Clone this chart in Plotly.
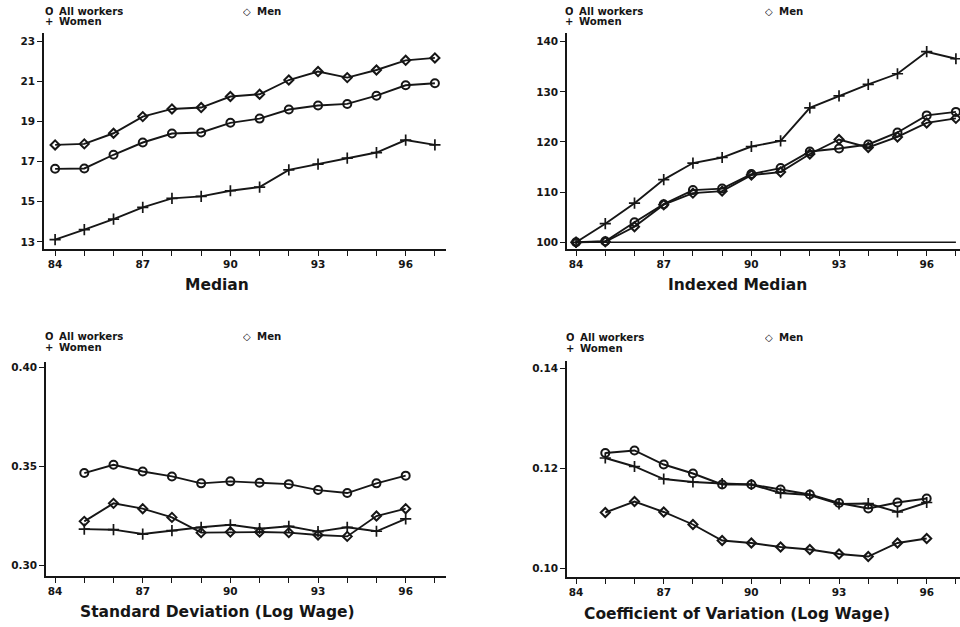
import plotly.graph_objects as go

# ---------------- data ----------------
years = list(range(84, 98))
years_sd = list(range(85, 97))

median_all = [16.64, 16.66, 17.34, 17.95, 18.40, 18.45, 18.93, 19.14, 19.59, 19.79, 19.87, 20.28, 20.80, 20.90]
median_men = [17.83, 17.88, 18.41, 19.24, 19.62, 19.69, 20.24, 20.35, 21.06, 21.48, 21.18, 21.56, 22.04, 22.16]
median_women = [13.12, 13.61, 14.14, 14.72, 15.17, 15.27, 15.55, 15.73, 16.59, 16.87, 17.17, 17.45, 18.07, 17.83]

idx_all = [100, 100.2, 104.0, 107.6, 110.4, 110.7, 113.6, 114.8, 118.1, 118.7, 119.5, 121.9, 125.3, 126.0]
idx_men = [100, 100.1, 103.1, 107.5, 109.8, 110.2, 113.4, 114.0, 117.6, 120.5, 118.9, 121.0, 123.8, 124.7]
idx_women = [100, 103.7, 107.8, 112.5, 115.8, 116.9, 119.1, 120.2, 126.8, 129.2, 131.5, 133.6, 138.0, 136.6]
idx_base_x = [84, 97]
idx_base_y = [100, 100]

sd_all = [0.3468, 0.3510, 0.3476, 0.3451, 0.3416, 0.3426, 0.3419, 0.3412, 0.3382, 0.3367, 0.3416, 0.3455]
sd_men = [0.3224, 0.3315, 0.3288, 0.3244, 0.3167, 0.3170, 0.3170, 0.3167, 0.3155, 0.3148, 0.3251, 0.3288]
sd_women = [0.3185, 0.3182, 0.3160, 0.3177, 0.3194, 0.3207, 0.3187, 0.3199, 0.3172, 0.3194, 0.3174, 0.3237]

cv_all = [0.1230, 0.1235, 0.1207, 0.1189, 0.1167, 0.1167, 0.1157, 0.1147, 0.1130, 0.1119, 0.1131, 0.1139]
cv_men = [0.1111, 0.1133, 0.1112, 0.1087, 0.1055, 0.1050, 0.1042, 0.1037, 0.1028, 0.1023, 0.1050, 0.1059]
cv_women = [0.1220, 0.1203, 0.1178, 0.1172, 0.1169, 0.1167, 0.1150, 0.1146, 0.1128, 0.1129, 0.1112, 0.1131]

x_tickvals = [84, 87, 90, 93, 96]
x_ticktext = ["84", "87", "90", "93", "96"]
series_names = ["All workers", "Men", "Women"]
panel_titles = ["Median", "Indexed Median", "Standard Deviation (Log Wage)",
                "Coefficient of Variation (Log Wage)"]

# ---------------- style ----------------
INK = "#161616"
FONT = "DejaVu Sans, Verdana, sans-serif"
W, H = 960, 627

sym = {"All workers": ("circle-open", 8), "Men": ("diamond-open", 7), "Women": ("cross-thin-open", 8)}

fig = go.Figure()


def add_series(xs, ys, name, ax):
    s, size = sym[name]
    fig.add_trace(go.Scatter(
        x=xs, y=ys, mode="lines+markers", name=name, showlegend=False,
        xaxis="x" + ax, yaxis="y" + ax,
        line=dict(color=INK, width=1.9),
        marker=dict(symbol=s, size=size, color=INK,
                    line=dict(color=INK, width=1.7 if name == "Women" else 2)),
    ))


panels = [
    ("", years, [median_all, median_men, median_women]),
    ("2", years, [idx_all, idx_men, idx_women]),
    ("3", years_sd, [sd_all, sd_men, sd_women]),
    ("4", years_sd, [cv_all, cv_men, cv_women]),
]
for ax, xs, ser in panels:
    for name, ys in zip(series_names, ser):
        add_series(xs, ys, name, ax)

fig.add_trace(go.Scatter(x=idx_base_x, y=idx_base_y, mode="lines", showlegend=False,
                         xaxis="x2", yaxis="y2", line=dict(color=INK, width=1.6)))


def xd(a, b):
    return [a / W, b / W]


def yd(top, bottom):
    return [1 - bottom / H, 1 - top / H]


axis_common = dict(showline=True, linecolor=INK, linewidth=1.7, showgrid=False, zeroline=False,
                   ticks="outside", ticklen=5, tickwidth=1.4, tickcolor=INK,
                   tickfont=dict(family=FONT, size=10.5, color=INK, weight="bold"))


def xaxis(dom, rng, anchor):
    d = dict(axis_common)
    d.update(domain=dom, range=rng, anchor=anchor, tickmode="array", tickvals=x_tickvals,
             ticktext=x_ticktext,
             minor=dict(tickmode="linear", tick0=84, dtick=1, ticks="outside", ticklen=5,
                        tickwidth=1.4, tickcolor=INK))
    return d


def yaxis(dom, rng, anchor, tickvals, fmt):
    d = dict(axis_common)
    d.update(domain=dom, range=rng, anchor=anchor, tickmode="array", tickvals=tickvals,
             ticktext=[fmt.format(v) for v in tickvals])
    return d


fig.update_layout(
    width=W, height=H, margin=dict(l=0, r=0, t=0, b=0),
    paper_bgcolor="white", plot_bgcolor="white",
    xaxis=xaxis(xd(44, 446), [83.62, 97.38], "y"),
    yaxis=yaxis(yd(33, 249), [12.65, 23.40], "x", [13, 15, 17, 19, 21, 23], "{:d}"),
    xaxis2=xaxis(xd(567, 960), [83.69, 97.14], "y2"),
    yaxis2=yaxis(yd(33, 249), [98.66, 141.73], "x2", [100, 110, 120, 130, 140], "{:d}"),
    xaxis3=xaxis(xd(46, 446), [83.69, 97.38], "y3"),
    yaxis3=yaxis(yd(362, 576), [0.2948, 0.4029], "x3", [0.30, 0.35, 0.40], "{:.2f}"),
    xaxis4=xaxis(xd(567, 960), [83.69, 97.14], "y4"),
    yaxis4=yaxis(yd(361, 577), [0.0982, 0.1414], "x4", [0.10, 0.12, 0.14], "{:.2f}"),
)

annotations = []
title_pos = [(217, 285), (737, 285), (217, 612), (737, 614)]
for t, (cx, cy) in zip(panel_titles, title_pos):
    annotations.append(dict(text=t, x=cx / W, y=1 - cy / H, xref="paper", yref="paper",
                            xanchor="center", yanchor="middle", showarrow=False,
                            font=dict(family=FONT, size=15.5, color=INK, weight="bold")))

legend_pos = [(49, 247, 10.5), (569, 769, 10.5), (49, 247, 336), (570, 769, 337)]
glyphs = {"All workers": "O", "Men": "\u25c7", "Women": "+"}
for lx, mx, ly in legend_pos:
    rows = [("All workers", lx, ly), ("Men", mx, ly), ("Women", lx, ly + 11)]
    for name, px, py in rows:
        annotations.append(dict(text=glyphs[name], x=px / W, y=1 - py / H,
                                xref="paper", yref="paper", xanchor="center", yanchor="middle",
                                showarrow=False, height=10,
                                font=dict(family=FONT, size=10, color=INK, weight="bold")))
        annotations.append(dict(text=name, x=(px + 8) / W, y=1 - py / H,
                                xref="paper", yref="paper", xanchor="left", yanchor="middle",
                                showarrow=False, height=10,
                                font=dict(family=FONT, size=10.2, color=INK, weight="bold")))

fig.update_layout(annotations=annotations)

fig.write_html("out.html")
